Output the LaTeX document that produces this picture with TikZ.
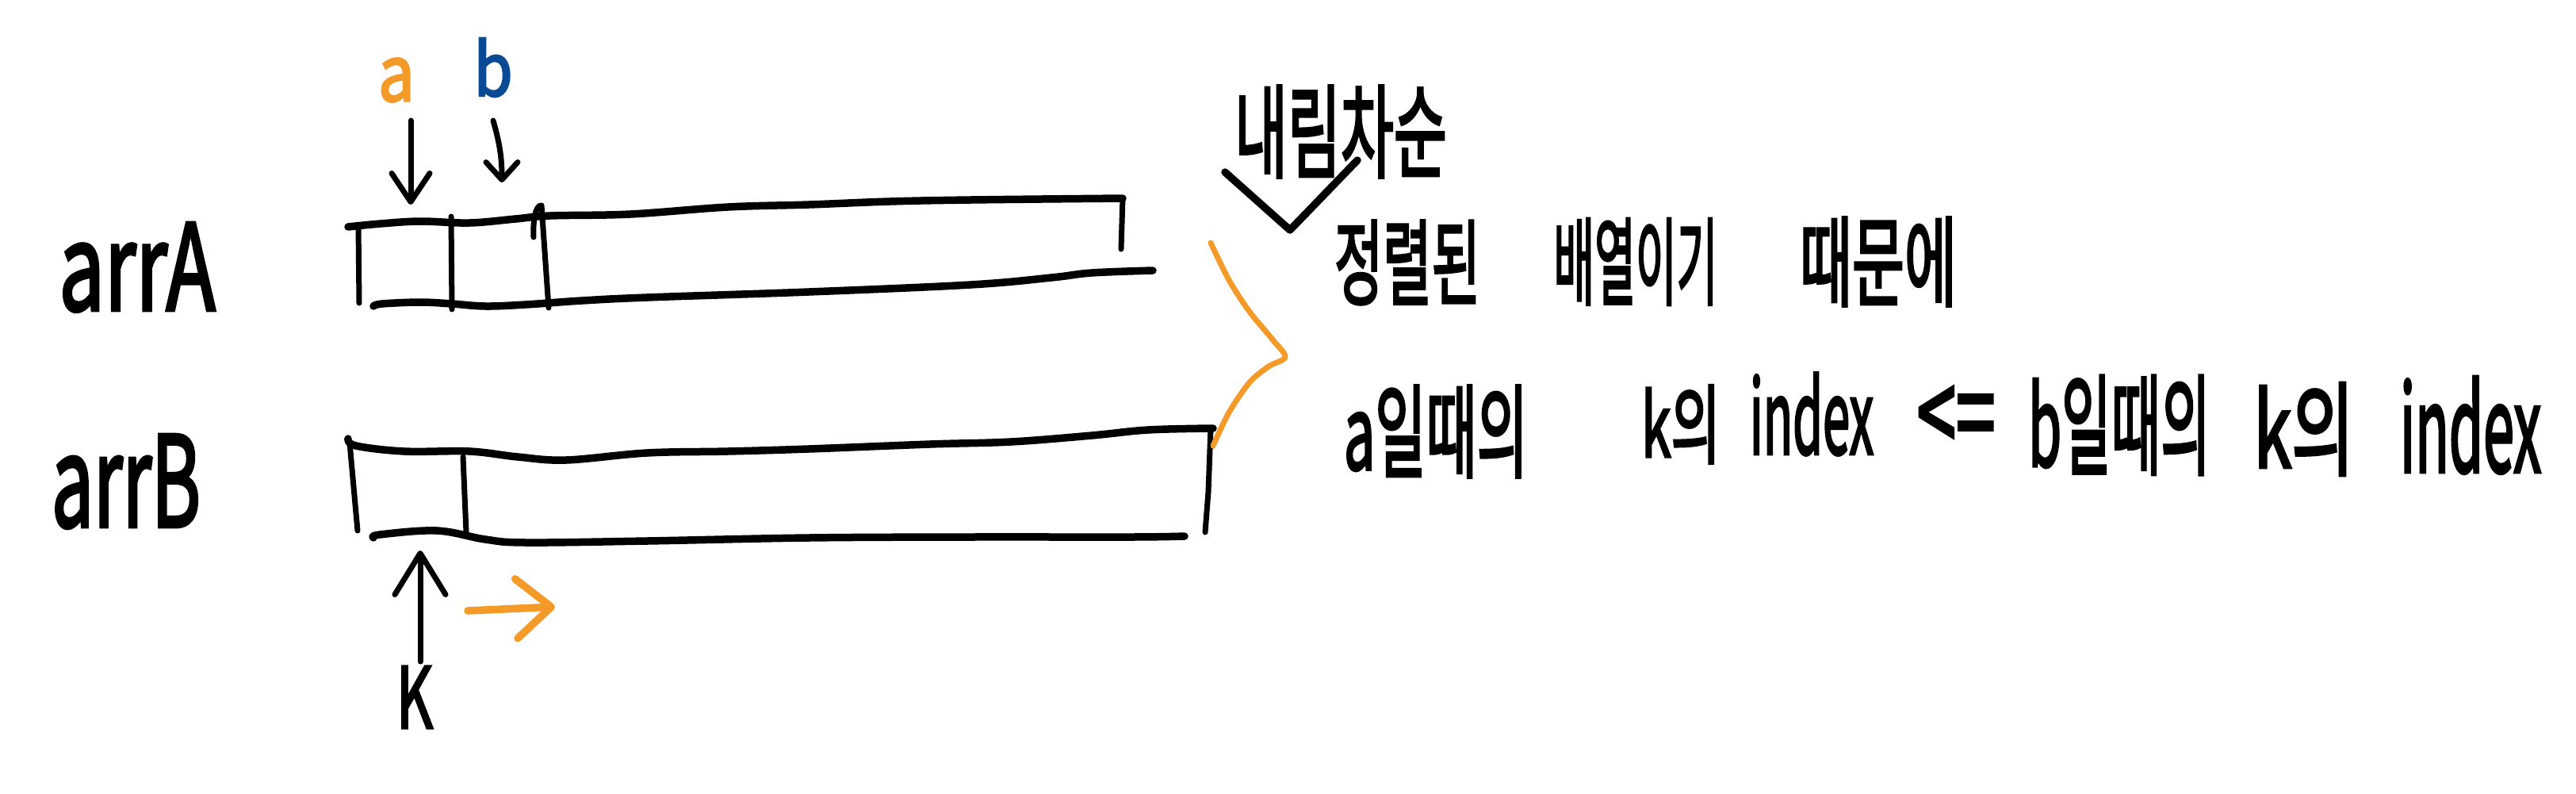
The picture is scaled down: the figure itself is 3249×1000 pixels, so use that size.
\documentclass[tikz,border=0pt]{standalone}
\usepackage{fontspec}
\setmainfont{Noto Sans CJK KR}
\newfontfamily\hwmed[FakeBold=3]{Noto Sans CJK KR}
\usetikzlibrary{arrows.meta}
\definecolor{hworange}{RGB}{243,154,40}
\definecolor{hwblue}{RGB}{10,74,148}
\newcommand{\hwbox}[3]{\resizebox*{#1mm}{#2mm}{\hwmed #3}}
\tikzset{
  pen/.style={line width=0.95mm, line cap=round, line join=round},
  thinpen/.style={line width=0.7mm, line cap=round, line join=round},
  hw/.style={inner sep=0pt, outer sep=0pt, font=\fontsize{20pt}{24pt}\selectfont},
}
\begin{document}
\begin{tikzpicture}[x=0.1mm, y=-0.1mm]
\useasboundingbox (0,0) rectangle (3249,1000);
\fill[white] (0,0) rectangle (3249,1000);

% ---- labels
\node[hw] (arrA) at (173,337) {\hwbox{19.7}{11.2}{arrA}};
\node[hw] (arrB) at (159,607) {\hwbox{18.8}{11.8}{arrB}};
\node[hw, text=hworange] (la) at (500,101) {\hwbox{4.6}{5.5}{a}};
\node[hw, text=hwblue] (lb) at (622,85) {\hwbox{4.9}{7.4}{b}};
\node[hw] (lk) at (523,879) {\hwbox{4.6}{7.8}{K}};

% ---- arrA box
\draw[pen] plot[smooth, tension=0.6] coordinates {(439,286) (480,282) (530,279) (592,281) (650,276) (694,272) (795,270) (918,261) (1020,258) (1122,254) (1224,252) (1416,250)};
\draw[thinpen] (1416,250) -- (1414,314);
\draw[pen] plot[smooth, tension=0.6] coordinates {(471,386) (482,383) (530,381) (570,383) (612,386) (663,384) (734,379) (816,375) (1020,368) (1224,359) (1326,350) (1377,344) (1454,341)};
\draw[thinpen] (452,284) -- (453,382);
\draw[thinpen] (569,273) -- (570,390);
\draw[thinpen] (673,299) .. controls (672,280) and (675,258) .. (683,259) -- (692,388);

% ---- arrB box
\draw[pen] plot[smooth, tension=0.6] coordinates {(439,553) (449,562) (510,569) (592,569) (653,576) (714,580) (816,571) (918,569) (1020,566) (1173,560) (1275,557) (1377,549) (1448,542) (1530,540)};
\draw[pen] plot[smooth, tension=0.6] coordinates {(471,678) (479,674) (551,669) (612,680) (663,684) (816,682) (1020,678) (1224,677) (1428,677) (1494,676)};
\draw[thinpen] (441,558) -- (451,669);
\draw[thinpen] (584,576) -- (588,671);
\draw[thinpen] (1527,540) -- (1524,620) -- (1520,671);

% ---- pointer arrows
\coordinate (aS) at (518,152); \coordinate (aT) at (518,258);
\coordinate (bS) at (622,152); \coordinate (bT) at (633,230);
\coordinate (kS) at (530,834); \coordinate (kT) at (530,694);
\coordinate (mS) at (590,770); \coordinate (mT) at (700,765);
\draw[thinpen, -{Straight Barb[length=3.6mm, width=4.8mm, round]}] (aS) -- (aT);
\draw[thinpen, -{Straight Barb[length=2.2mm, width=4mm, round]}] (bS) to[bend left=8] (bT);
\draw[thinpen, -{Straight Barb[length=5.2mm, width=6.4mm, round]}] (kS) -- (kT);
\draw[pen, hworange, -{Straight Barb[length=4.4mm, width=7.5mm, round]}] (mS) -- (mT);

% ---- orange bracket
\draw[thinpen, hworange] plot[smooth, tension=0.5] coordinates {(1527,306) (1550,353) (1576,393) (1605,428) (1621,450) (1600,462) (1576,482) (1550,520) (1530,562)};

% ---- notes
\node[hw] (desc) at (1691,166) {\hwbox{26.8}{11.6}{내림차순}};
\coordinate (vL) at (1545,217); \coordinate (vB) at (1627,290); \coordinate (vR) at (1712,202);
\draw[pen] (vL) -- (vB) -- (vR);

\node[hw] (w1) at (1775,331) {\hwbox{18.4}{10.6}{정렬된}};
\node[hw] (w2) at (2063,330) {\hwbox{20.7}{10.9}{배열이기}};
\node[hw] (w3) at (2369,330) {\hwbox{19.8}{11.2}{때문에}};

\node[hw] (t1) at (1811,544) {\hwbox{23.2}{11.6}{a일때의}};
\node[hw] (t2) at (2120,535) {\hwbox{10.0}{9.9}{k의}};
\node[hw] (t3) at (2285,522) {\hwbox{15.6}{10.4}{index}};
\node[hw] (t4) at (2467,530) {\hwbox{9.9}{8.5}{<=}};
\node[hw] (t5) at (2673,536) {\hwbox{23.0}{12.5}{b일때의}};
\node[hw] (t6) at (2906,541) {\hwbox{12.7}{11.7}{k의}};
\node[hw] (t7) at (3116,536) {\hwbox{17.8}{12.2}{index}};
\end{tikzpicture}
\end{document}
